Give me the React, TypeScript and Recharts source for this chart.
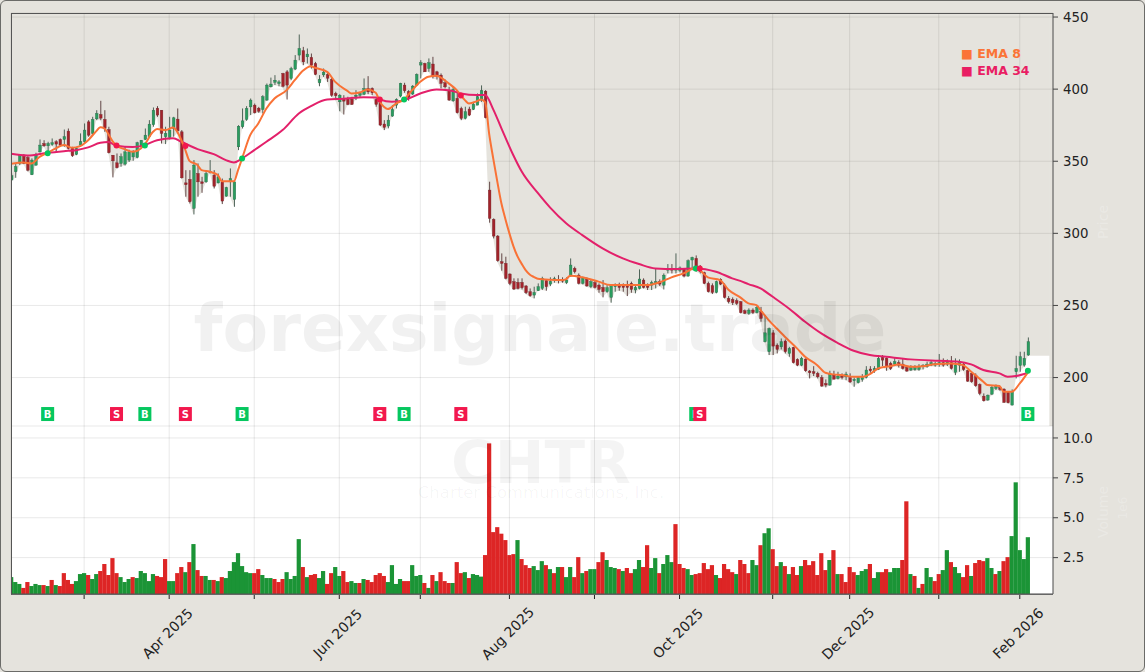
import React from "react";
import { ComposedChart, Bar, Line, Area, XAxis, YAxis, CartesianGrid, ReferenceDot, ReferenceArea } from "recharts";

const opens = [
337,342.7,348.5,354,352.6,340.6,347.3,356.5,362.3,360.7,
361.6,363.5,365.1,365.1,370.9,358.9,354.7,361.2,363.5,377.3,
369.3,379.4,382.4,379,372,354.2,348.9,348.5,348,350.8,
353,352.6,360,365.1,367,375.3,386.8,385.4,367,366.5,
372.7,379.2,370.4,335,337.4,317.3,341.5,335.7,335.7,342,
340.4,335,335.7,325.8,335.7,323.5,360,373.9,379,387.7,
388.9,386.8,385.9,392.4,401.6,404.8,403.9,410.9,412,407.4,
413.9,423.6,426.6,422.4,422,417.8,404.4,409.9,410,406.7,
397,391.2,393.5,393.5,393,394.7,395.8,396.5,400.4,400.5,
392.9,391.2,375.8,374.4,381.3,388.9,395.2,402.8,398.2,396.6,
402.8,416.7,417.8,414.4,417.4,412,409.7,404.4,399.3,391.9,
393.6,386.6,379.7,386.2,385.9,388.9,392.4,398.6,330,309.7,
298.1,280.3,279.2,271.8,266.5,266,266,263.5,259.5,257.2,
260.2,261.8,267.1,264.8,267.6,268.1,268.1,265.8,270.4,275.7,
271,265.3,268.1,263,265.8,264.1,262.5,259.5,255.6,263,
263.4,263.4,263.4,265.3,260.7,261.8,267.6,263.7,264.1,265.3,
266.5,264.1,274.5,275.7,274.5,274.4,275.2,270.4,281.5,282.6,
276.2,272.7,265.3,263.7,259,268.1,264.1,254.9,254.2,253.3,
252.6,246.3,244.5,246.8,245,245.6,224.8,217.9,231,222.5,
221.3,225.3,216.7,220.9,212.6,208.6,212.8,204.5,204,202.9,
200,195.9,194.8,201.7,199.4,201,200.5,199.9,197.8,196.4,
198.7,200.1,205.9,204.7,205.6,213.9,213.3,209.8,209.3,210.3,
209.3,207,205.2,205.4,205.6,207.6,207.5,208.6,208.6,209.3,
210.3,209.3,210.3,203.6,208.6,209.3,204.7,202.9,201.7,195.2,
187.1,184.4,188.5,192.5,192.9,192,189.7,180.9,204,208.4,208.6,215.6];

const closes = [
340,346.2,354,348.5,343.8,350.8,354.2,361.2,360.7,362.3,
362.8,361.9,361.2,367,358.9,353.8,358.9,363.5,371.6,368.1,
379,383.1,379.9,372.7,355.9,350.3,345.5,353.1,356.5,356.5,
356.5,362.8,364.6,368.1,375.7,385.4,382,369.3,369.3,371.6,
380.1,371.1,338.5,333.7,321.9,347.3,335.7,334.6,341.5,343,
332.7,339.2,322.4,331.8,338,335.7,374.3,378,386.6,392.4,
383.6,384.7,394.7,402.8,403.5,406.2,405,402,402.8,414.3,
420.1,428.2,418.9,424.3,416.6,410.2,406.7,411.8,407.6,395.8,
395.4,395.8,391.7,389.4,389.4,395.8,397,400.4,398.1,397.5,
389.4,375.1,373.5,378.5,385.9,392.9,404,398.9,394.3,402.1,
410.2,418.3,412,418.3,409,409,404,401.6,392.4,399.8,
383.6,379.7,384.3,382,389.6,394.7,398.9,380.2,310.4,298.1,
281,279.2,268.8,265.3,261.4,261.8,262.3,258.8,256.7,259,
263,268.8,263,266.7,268.5,267.1,266.9,267.6,278,273.4,
265.3,269.5,263.5,266.5,262.5,261.1,259.5,262.3,263.7,263.7,
262.5,262.5,262.5,261.1,262.5,268.3,262.5,262.5,265.8,266.5,
264.8,271,275.7,274.5,275.7,276,270.4,281,283.3,274.5,
273.4,265.3,259.5,259,266.5,264.8,255.6,252.6,251.9,251.4,
245,244.5,246.8,245,248.6,241,231,234,221.8,219.5,
224.8,217.9,220.2,210.3,208.6,213.3,204.7,203.3,202.9,200.5,
194.1,194.8,202.4,198.9,201,200.1,202.4,196.9,198.7,199.9,
200.1,205.2,204.7,206.3,213.3,212.1,207.5,206.3,211,208.6,
206.3,204.5,206.8,206.8,207.9,208.6,209.3,210.3,209.8,210.3,
208.6,210.7,206.3,208.6,210.3,205.6,197.5,197.1,194.3,189,
183.9,187.8,193.2,193.6,191.8,182.8,182.5,190.2,206.3,214.4,213.3,224.8];

const highs = [
341.5,348.5,355,355,354,352,355.9,365.1,364.6,363.5,
365.8,364.6,365.8,372,372.7,360,360,369.3,376.2,378.5,
380.8,385.4,391.9,385.4,373.9,354.2,355.4,355.4,360,358,
357.7,363.5,364.6,372.7,378.5,387.3,388.2,385.4,373.9,380.8,
380.8,386.6,371.6,343.8,343.8,350.8,348.5,339.2,343.8,350.8,
343.8,341.5,338,332.3,345,336.9,375,386.6,388.2,393.5,
390,387.7,395.8,403.9,408,409.7,406.2,411.3,413.2,415.5,
423.6,437.9,429.3,428.2,424.7,418.9,409.7,414.3,412,408,
398.2,396.5,395.8,394.7,394.7,399.3,398.2,407.4,409,401.2,
394.7,392.4,378.5,382,388.9,393.6,404.4,404.4,399.3,402.8,
410.9,420.1,418.3,421.3,422.4,412.7,410.9,406.7,401.6,401.6,
399.3,387.8,387.8,387.8,391.2,397,402.6,399.3,335.8,310.4,
298.8,286.1,283.8,272.2,268.8,268.8,268.8,264.1,261.8,263,
265.3,269.9,268.1,269.5,269.9,271,269.5,269.5,282.6,276.9,
272.2,269.9,269.5,268,267.2,265.3,267.6,264.1,264.1,265.3,
265.8,265.3,267.2,266.5,264.1,275,268.8,265.3,267.2,275.7,
268.1,272.2,278.7,278.7,286.1,277,275.7,281.9,283.8,284.7,
278,273.4,266.5,265.3,267.2,268.8,265.3,256.5,255.6,254.9,
253,247.2,248,248,250.2,249,243.3,234.7,232.9,223.7,
227.1,226.4,221.3,221.3,213.3,214.4,213.3,205.2,207.9,204,
201.7,198.7,204.7,204.7,204,202.9,204,202.9,200.1,200.5,
202.4,207.9,207.9,207.9,215.6,215.6,214,211,213.9,212,
213.3,207.9,208.6,208.6,209.3,209.3,211,211.6,211,216.3,
213.3,212.6,214.9,213.3,212.6,210.3,205.2,204,202.9,195.9,
189,188.2,194.1,195.2,194.1,192.5,190.2,191.8,215.1,217.9,217.9,227.8];

const lows = [
336.5,338.5,347.3,348,343,340.4,346.9,355.9,360,355.4,
360.7,356.5,360,360,358.2,353,354.2,360,362.3,367,
368.1,378.5,378.5,370.4,355.4,338.8,345,346.2,347,349.5,
350.3,352,358.9,364.6,366.5,373.9,380.8,362.3,361.9,365.1,
367,369.3,338,325.4,320.7,313.1,325.4,328.1,335,341.5,
331.1,334.6,320.3,325.4,325.4,318.4,357.7,372.7,378,382,
383.1,383.6,383.1,391.9,401.2,402.8,402,401.2,392.8,406.2,
413.2,420.1,416.6,417.8,414.3,409.7,402,408.5,405,394.7,
392.4,384.7,382.4,388.9,389,392.4,394.2,395.8,396.5,395.9,
387.8,374.4,371.6,372.8,380.8,386.6,394.3,397.5,392,395.9,
402.1,407.4,412,412,407.4,406.7,400.5,400.5,392,391.2,
383.1,378.5,379,381.3,385.5,388.9,391.2,379.7,307.4,296.5,
280.3,274.1,268.1,264.1,260.7,261.1,261.1,257.9,256,254.9,
260,260.7,260.2,263.4,265.8,265.3,265.8,264.8,269.9,272.2,
264.6,264.6,263,262,261.8,258.8,255.6,258.8,251.9,259.5,
260.2,259.5,256.5,258.8,258.4,261.1,261.8,260.7,260.7,261.8,
263.4,261.1,272.2,272.2,272.2,273,269.5,269.9,274.5,273.4,
272.2,264.8,259,257.9,258.4,264.1,254.9,251.4,250.3,250.3,
244.5,244,243.5,244,244.5,238.7,224.3,215.6,215.6,216.7,
219.5,216.7,214.4,209.8,207.9,207.9,204,199.4,201,199.4,
193.6,193.2,194.3,198.7,198.7,198.7,198.2,196.4,193.6,195.9,
197.1,199.4,203.3,203.3,205.2,207.9,204.7,205.2,207.9,207,
205.6,204,204.5,204.7,204.7,205.6,206.8,207.9,207.5,207.5,
207.5,208,205.6,201.7,204,204.7,197.1,196.4,193.6,187.8,
183.4,183.9,187.8,191.3,190.8,182.5,182.1,180.7,199.4,204,207.5,215.1];

const volumes = [
1.28,.97,.85,.6,.97,.72,.85,.78,.78,.72,
1.1,.78,.72,1.53,1.1,.85,1.03,1.47,1.53,1.41,
1.16,1.47,1.66,2.1,1.41,2.47,1.53,1.28,.97,1.16,
1.28,1.22,1.66,1.53,1.03,1.47,1.35,1.28,2.41,1.03,
1.03,1.53,1.91,1.59,2.22,3.35,1.72,1.35,1.35,1.1,
1.1,1.03,1.28,1.22,1.66,2.22,2.78,1.97,1.59,1.53,
1.53,1.78,1.41,1.22,1.22,1.16,.97,1.16,1.59,1.16,
1.35,3.66,1.91,1.28,1.41,1.47,1.22,1.66,.85,1.53,
1.91,1.35,1.66,.97,1.03,.91,.91,1.16,1.1,.97,
1.41,1.53,1.35,.97,2.03,.85,1.16,1.03,1.03,2.03,
1.35,1.41,.91,.6,1.41,1.03,1.59,1.03,.91,.91,
2.22,1.53,1.59,1.22,1.47,1.41,1.31,2.66,9.66,4.1,
4.41,4,3.6,2.66,2.72,3.6,2.41,2.03,1.85,1.97,
1.72,2.28,2.03,1.78,1.53,1.91,1.91,1.28,1.91,1.28,
2.53,1.53,1.66,1.78,1.78,2.22,2.84,2.35,1.91,1.85,
1.78,1.66,1.85,1.53,1.78,2.35,1.91,3.28,1.85,2.47,
1.53,2.1,2.66,2.22,4.6,2.1,1.85,1.78,1.41,1.47,
1.53,2.16,1.78,2.03,1.41,1.22,2.1,1.78,1.59,1.47,
2.35,2.1,1.53,2.35,2.03,3.28,4.03,4.34,3.03,1.97,
2.22,1.97,1.47,1.91,1.41,1.97,2.35,2.03,2.28,1.41,
2.78,1.72,2.35,2.97,1.47,1.47,.97,1.91,1.59,1.41,
1.66,1.78,2.1,1.22,1.59,1.59,1.78,1.59,1.85,1.85,
2.35,6.03,1.47,1.35,.6,.85,1.85,1.28,1.03,1.47,
1.72,2.97,2.22,1.91,1.53,1.28,2.03,1.35,2.16,2.35,
2.28,2.47,1.85,1.47,1.66,2.28,2.53,3.85,7.22,2.97,2.41,3.78];

const volumeUpIndex = [0,1,2,5,6,7,9,11,16,17,18,20,21,27,28,29,31,32,33,34,35,39,40,43,45,48,49,51,53,54,55,56,57,58,59,62,63,64,68,69,70,71,73,76,77,80,81,84,85,87,93,94,95,96,99,100,101,103,105,109,112,114,115,116,125,129,130,131,133,135,137,138,141,143,144,147,148,149,151,154,155,158,159,161,162,163,167,168,174,179,183,184,186,187,190,192,195,202,204,209,210,211,213,214,217,218,219,222,224,226,227,230,231,233,234,237,241,242,244,247,248,249,250,251];

const ema8Points: [number, number][] = [
[0,348.2],[3,349.2],[5,348.5],[7,353],[9,355.9],[11,358.9],[13,361.2],[15,359.3],[17,360.5],[19,364.6],[21,370.9],[22,373.6],[23,372.7],[25,364],[26,360.7],[28,358.4],[30,356.5],[32,358.9],[33,361.9],[35,370.4],[36,372.3],[38,371.6],[40,373.4],[41,370.4],[43,357.7],[44,350.3],[46,347.3],[47,343.8],[49,342.7],[51,340.4],[52,336.2],[55,336.2],[56,343.8],[57,351.9],[59,368.1],[61,376.2],[63,386.6],[65,393.5],[68,399.3],[70,406.2],[72,412.7],[74,415.9],[75,414.8],[78,412],[80,405],[83,398.8],[84,397],[86,397.7],[88,399.8],[90,397.5],
[91,391.2],[92,387.8],[93,386.2],[95,390],[97,392.9],[99,399.3],[101,405.1],[103,408.6],[105,409.3],[106,408.1],[108,404],[110,399.3],[112,392.4],[113,390.1],[115,391.7],[116,392.9],[117,391],[118,369],[119,352],[120,336],[121,321],[122,310],[123,300],[124,291],[125,284],[126,279],[127,274.5],[128,271.5],[129,269.8],[130,268.5],[133,267.8],[136,267.6],[137,268.3],[138,270.6],[141,269.5],[145,266.5],[148,264.1],[153,264.1],[157,264.1],[160,266],[163,269.5],[166,272.2],[169,276.2],[170,274.5],[172,269.5],[175,267.6],[177,261.1],
[180,255.6],[182,251.4],[184,250.2],[185,246.8],[187,239.8],[189,234],[191,228.3],[194,220.2],[196,214.4],[199,208.6],[201,203.3],[203,202.2],[205,201.7],[208,200.5],[210,200.5],[212,202.4],[214,206.3],[217,207.9],[219,209.1],[222,207.5],[225,207.9],[228,209.3],[232,209.8],[235,208.6],[237,204],[240,197.1],[241,194.8],[244,194.1],[245,190.2],[247,190.2],[249,195.9],[251,203.6]];

const ema34Points: [number, number][] = [
[0,355.2],[4,354],[9,355.9],[13,357],[16,357.7],[19,359.6],[22,362.8],[24,363.3],[26,360.7],[30,359.8],[33,361.2],[36,364.6],[40,366],[42,363.5],[46,358.4],[50,354.9],[53,350.8],[55,349.2],[57,351.9],[60,357.7],[63,363.5],[67,371.6],[71,383.1],[74,388.2],[78,392.8],[82,393.3],[87,394.4],[90,394.2],
[91,392.9],[94,391.2],[97,392.4],[101,397],[105,399.8],[108,399.3],[111,397],[115,395.9],[117,395.9],[119,386],[121,373],[124,354],[126,343],[130,328],[133,318],[137,307],[141,298.8],[146,289.6],[151,282.6],[155,278.7],[159,275.7],[164,275.2],[169,275.7],[174,273.4],[178,268.8],
[180,267],[182,264.8],[185,261.8],[188,256],[192,247.9],[196,238.7],[200,230.6],[204,224.1],[208,218.6],[212,215.6],[216,214.4],[222,212.6],[229,211.6],[234,211],[237,209.1],[240,205.2],[244,202.9],[246,200.6],[248,201],[251,203.3]];

const tickIndexes = [18,39,60,81,101,123,144,165,188,207,229,249];
const tickLabels = ["","Apr 2025","","Jun 2025","","Aug 2025","","Oct 2025","","Dec 2025","","Feb 2026"];
const priceTicks = [200,250,300,350,400,450];
const volumeTicks = [2.5,5,7.5,10];
const buySignalIndex = [9,33,57,97,169,251];
const buySignalPrice = [355.5,360.9,351.9,392.9,275.7,204.7];
const sellSignalIndex = [26,43,91,111,170];
const sellSignalPrice = [360.9,360.5,392.9,395.6,275.7];

const PRICE_MIN = 166.4, PRICE_MAX = 452.8, VOL_MIN = 0.22, VOL_MAX = 10.75;
const X_MIN = -0.05, X_MAX = 257.2, FILL_END = 256.3;
const AXIS_FONT = "'DejaVu Sans', sans-serif";
const PANEL = "#e5e3dd";
const upSet = new Set(volumeUpIndex);
const e8 = new Map(ema8Points), e34 = new Map(ema34Points);

const priceRows: any[] = opens.map((o, i) => ({
  x: i, open: o, close: closes[i], high: highs[i], low: lows[i],
  ema8: e8.has(i) ? e8.get(i) : null, ema34: e34.has(i) ? e34.get(i) : null,
}));
priceRows.push({ x: FILL_END, low: lows[lows.length - 1], ema8: null, ema34: null });
const volumeRows = volumes.map((v, i) => ({ x: i, vol: v, up: upSet.has(i) }));

function Candle(props: any) {
  const { x, y, width, height, payload } = props;
  if (!payload || payload.high == null) return null;
  const range = payload.high - payload.low || 1;
  const h = Math.abs(height);
  const py = (p: number) => y + ((payload.high - p) / range) * h;
  const up = payload.close >= payload.open;
  const top = py(Math.max(payload.open, payload.close));
  const bot = py(Math.min(payload.open, payload.close));
  const cx = x + width / 2;
  return (
    <g>
      <line x1={cx} x2={cx} y1={y} y2={y + h} stroke={up ? "#3d5548" : "#543636"} strokeWidth={0.9} />
      <rect x={cx - 1.3} y={top} width={2.6} height={Math.max(bot - top, 1)}
        fill={up ? "#2a9d5f" : "#a3232b"} stroke={up ? "#2a6a4a" : "#74262a"} strokeWidth={0.4} />
    </g>
  );
}

function VolumeBar(props: any) {
  const { x, y, width, height, payload } = props;
  const cx = x + width / 2;
  return <rect x={cx - 2.1} y={y} width={4.2} height={height} fill={payload.up ? "#14912f" : "#dc1e1e"} fillOpacity={0.97} />;
}

function Badge(props: any) {
  const { cx, cy, label, color } = props;
  return (
    <g>
      <rect x={cx - 6.5} y={cy - 7} width={13} height={14} fill={color} />
      <text x={cx} y={cy + 3.6} textAnchor="middle" fontSize={10} fontWeight="bold" fontFamily={AXIS_FONT} fill="#fff">{label}</text>
    </g>
  );
}

function DateTick(props: any) {
  const { x, y, payload } = props;
  const label = tickLabels[tickIndexes.indexOf(payload.value)];
  if (!label) return <g />;
  const cy = y + 33;
  return (
    <text x={x - 1} y={cy} textAnchor="middle" dominantBaseline="middle" fontSize={14}
      fontFamily={AXIS_FONT} fill="#222" transform={`rotate(-45 ${x - 1} ${cy})`}>{label}</text>
  );
}

const axisTick = { fontSize: 13.3, fontFamily: AXIS_FONT, fill: "#222" };
const mark = (text: string, style: React.CSSProperties) => (
  <div style={{ position: "absolute", whiteSpace: "nowrap", fontFamily: AXIS_FONT, pointerEvents: "none", ...style }}>{text}</div>
);

export default function App() {
  return (
    <div style={{ position: "absolute", left: 0, top: 0, width: 1145, height: 672, background: PANEL, overflow: "hidden" }}>
      <div style={{ position: "absolute", left: 11, top: 13, width: 1042, height: 581, background: "#fff" }} />
      <div style={{ position: "absolute", left: 0, top: 0 }}>
        <ComposedChart width={1145} height={426} data={priceRows} margin={{ top: 13, right: 0, bottom: 0, left: 11 }}>
          <Area dataKey={(d: any) => [d.low, PRICE_MAX]} type="linear" stroke="none" fill="rgb(82,68,28)" fillOpacity={0.15}
            isAnimationActive={false} dot={false} activeDot={false} />
          <ReferenceArea x1={FILL_END} x2={X_MAX} y1={PRICE_MIN} y2={PRICE_MAX} fill="rgb(82,68,28)" fillOpacity={0.15} stroke="none" />
          <CartesianGrid stroke="#000" strokeOpacity={0.09} />
          <XAxis dataKey="x" type="number" domain={[X_MIN, X_MAX]} ticks={tickIndexes} allowDataOverflow hide />
          <YAxis orientation="right" width={92} domain={[PRICE_MIN, PRICE_MAX]} ticks={priceTicks} allowDataOverflow
            tick={axisTick} tickSize={5} tickMargin={5} tickLine={{ stroke: "#444" }} axisLine={{ stroke: "#555" }} />
          <Bar dataKey={(d: any) => (d.high == null ? null : [d.low, d.high])} barSize={3} shape={Candle} isAnimationActive={false} />
          <Line dataKey="ema34" type="monotone" stroke="#e3206a" strokeWidth={2} dot={false} connectNulls isAnimationActive={false} />
          <Line dataKey="ema8" type="monotone" stroke="#f97236" strokeWidth={2} dot={false} connectNulls isAnimationActive={false} />
          {buySignalIndex.map((x, i) => (
            <ReferenceDot key={"bd" + x} x={x} y={buySignalPrice[i]} r={3} fill="#06c75f" stroke="none" />
          ))}
          {sellSignalIndex.map((x, i) => (
            <ReferenceDot key={"sd" + x} x={x} y={sellSignalPrice[i]} r={3} fill="#f2184d" stroke="none" />
          ))}
          {buySignalIndex.map((x) => (
            <ReferenceDot key={"bb" + x} x={x} y={174.7} shape={(p: any) => <Badge {...p} label="B" color="#06c75f" />} />
          ))}
          {sellSignalIndex.map((x) => (
            <ReferenceDot key={"sb" + x} x={x} y={174.7} shape={(p: any) => <Badge {...p} label="S" color="#f2184d" />} />
          ))}
        </ComposedChart>
      </div>
      <div style={{ position: "absolute", left: 0, top: 426 }}>
        <ComposedChart width={1145} height={246} data={volumeRows} margin={{ top: 0, right: 0, bottom: 0, left: 11 }}>
          <CartesianGrid stroke="#000" strokeOpacity={0.09} />
          <XAxis dataKey="x" type="number" domain={[X_MIN, X_MAX]} ticks={tickIndexes} allowDataOverflow height={78} interval={0}
            tick={<DateTick />} tickSize={5} tickLine={{ stroke: "#222" }} axisLine={{ stroke: "#555" }} />
          <YAxis orientation="right" width={92} domain={[VOL_MIN, VOL_MAX]} ticks={volumeTicks} allowDataOverflow
            tickFormatter={(v: number) => v.toFixed(1)} tick={axisTick} tickSize={5} tickMargin={5}
            tickLine={{ stroke: "#444" }} axisLine={{ stroke: "#555" }} />
          <Bar dataKey="vol" barSize={4} shape={VolumeBar} isAnimationActive={false} />
        </ComposedChart>
      </div>
      <div style={{ position: "absolute", left: 11, top: 13, width: 1041, height: 580, borderTop: "1px solid #555", borderLeft: "1px solid #555", borderBottom: "1px solid #666", pointerEvents: "none" }} />
      {mark("forexsignale.trade", { left: 540, top: 328, transform: "translate(-50%,-50%)", fontSize: 66.5, fontWeight: "bold", color: "rgba(0,0,0,0.055)" })}
      {mark("CHTR", { left: 541, top: 462, transform: "translate(-50%,-50%)", fontSize: 59.5, fontWeight: "bold", color: "rgba(0,0,0,0.045)" })}
      {mark("Charter Communications, Inc.", { left: 541, top: 492, transform: "translate(-50%,-50%)", fontSize: 16.5, color: "rgba(0,0,0,0.04)" })}
      {mark("Price", { left: 1103, top: 222, transform: "translate(-50%,-50%) rotate(-90deg)", fontSize: 14, color: "rgba(255,255,255,0.22)" })}
      {mark("Volume", { left: 1103, top: 512, transform: "translate(-50%,-50%) rotate(-90deg)", fontSize: 14, color: "rgba(255,255,255,0.22)" })}
      {mark("1e6", { left: 1123, top: 508, transform: "translate(-50%,-50%) rotate(-90deg)", fontSize: 12, color: "rgba(255,255,255,0.22)" })}
      {mark("■ EMA 8", { left: 961, top: 46, fontSize: 12.5, fontWeight: "bold", color: "#fb7437" })}
      {mark("■ EMA 34", { left: 961, top: 63, fontSize: 12.5, fontWeight: "bold", color: "#e91e63" })}
      <div style={{ position: "absolute", left: 0, top: 0, width: 1143, height: 670, border: "1px solid #6b6b68", borderRadius: 6, pointerEvents: "none" }} />
    </div>
  );
}
